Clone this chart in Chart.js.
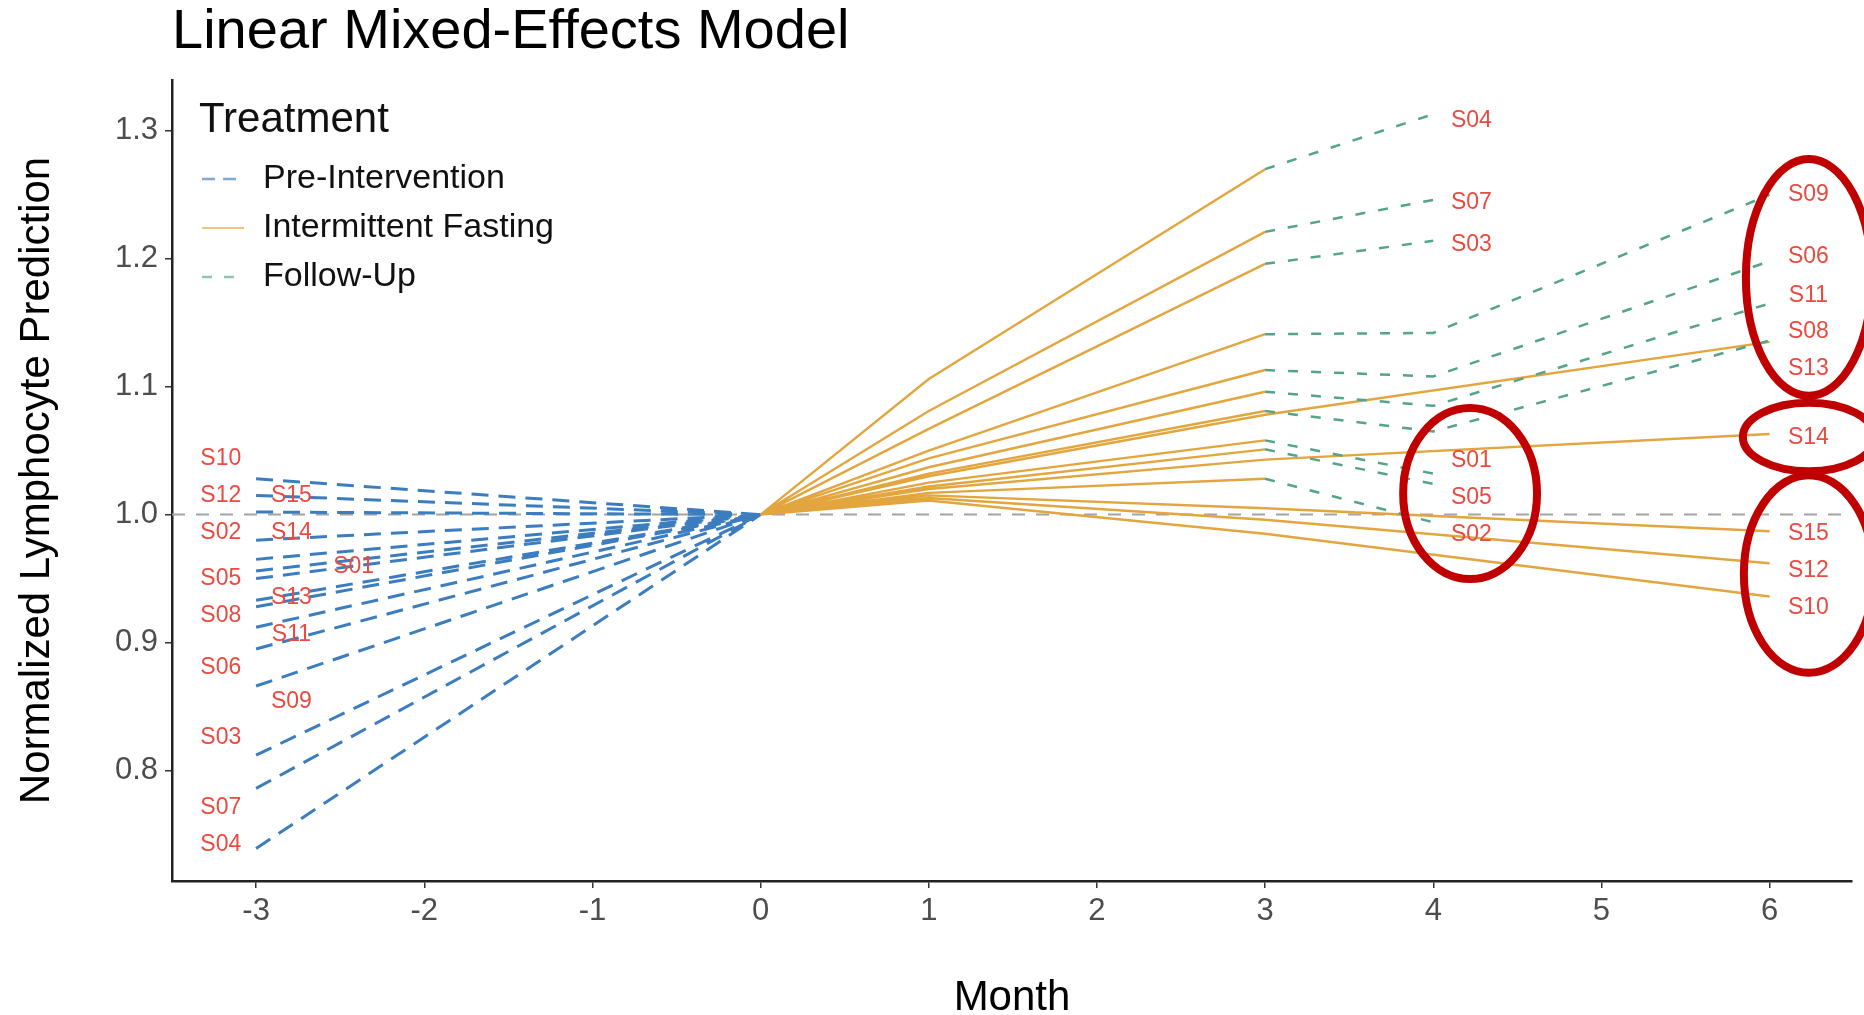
<!DOCTYPE html>
<html>
<head>
<meta charset="utf-8">
<title>Linear Mixed-Effects Model</title>
<script src="https://cdn.jsdelivr.net/npm/chart.js@4.4.1/dist/chart.umd.min.js"></script>
<style>
  html, body { margin: 0; padding: 0; background: #fff; }
</style>
</head>
<body>
<canvas id="myChart" width="1864" height="1015"></canvas>
<script>
// subjects, in index order
const subjects = ['S01', 'S02', 'S03', 'S04', 'S05', 'S06', 'S07', 'S08', 'S09', 'S10', 'S11', 'S12', 'S13', 'S14', 'S15'];

// predicted value at each month (normalized to 1.0 at month 0)
const month0Value = 1.0;
const preM3 = [0.956, 0.980, 0.812, 0.739, 0.950, 0.895, 0.786, 0.928, 0.866, 1.028, 0.912, 1.015, 0.933, 0.965, 1.002];
const fastM1 = [1.025, 1.017, 1.067, 1.106, 1.022, 1.044, 1.081, 1.032, 1.050, 1.011, 1.037, 1.013, 1.030, 1.020, 1.015];
const fastM3 = [1.058, 1.028, 1.196, 1.270, 1.051, 1.113, 1.221, 1.081, 1.141, 0.985, 1.096, 0.996, 1.078, 1.043, 1.005];
const fastM6 = [null, null, null, null, null, null, null, null, null, 0.936, null, 0.962, 1.135, 1.063, 0.987];
const followM4 = [1.032, 0.994, 1.214, 1.313, 1.024, 1.108, 1.246, 1.065, 1.142, null, 1.085, null, null, null, null];
const followM6 = [null, null, null, null, null, 1.198, null, 1.136, 1.250, null, 1.165, null, null, null, null];

const monthTicks = [-3, -2, -1, 0, 1, 2, 3, 4, 5, 6];
const valueTicks = [0.8, 0.9, 1.0, 1.1, 1.2, 1.3];
const xRange = [-3.5, 6.49];
const yRange = [0.7136, 1.3397];

// where the subject labels sit (month, value), as placed by the repel step
const labelSpots = [
  ['S10', -3.21, 1.044], ['S12', -3.21, 1.015], ['S02', -3.21, 0.986], ['S05', -3.21, 0.950],
  ['S08', -3.21, 0.921], ['S06', -3.21, 0.880], ['S03', -3.21, 0.826], ['S07', -3.21, 0.771],
  ['S04', -3.21, 0.742], ['S15', -2.79, 1.015], ['S14', -2.79, 0.986], ['S01', -2.42, 0.959],
  ['S13', -2.79, 0.935], ['S11', -2.79, 0.906], ['S09', -2.79, 0.854],
  ['S04', 4.227, 1.308], ['S07', 4.227, 1.244], ['S03', 4.227, 1.211],
  ['S01', 4.227, 1.042], ['S05', 4.227, 1.013], ['S02', 4.227, 0.984],
  ['S09', 6.231, 1.250], ['S06', 6.231, 1.202], ['S11', 6.231, 1.171], ['S08', 6.231, 1.143],
  ['S13', 6.231, 1.114], ['S14', 6.231, 1.060], ['S15', 6.231, 0.985], ['S12', 6.231, 0.956],
  ['S10', 6.231, 0.927]
];

// red circles added on top of the figure (centre month, centre value, radius in months, radius in value)
const highlights = [
  [6.233, 1.1854, 0.374, 0.0925],
  [6.233, 1.0606, 0.392, 0.0268],
  [6.233, 0.9535, 0.386, 0.0772],
  [4.219, 1.0165, 0.398, 0.0669]
];

const colPre = '#3B7DBF';
const colFast = '#E3A53E';
const colFollow = '#55A38B';
const fontFamily = '"Liberation Sans", Arial, Helvetica, sans-serif';

// join per-subject pieces into one dataset, broken by null points
function joinPieces(pieces) {
  let pts = [];
  pieces.forEach((p, i) => {
    if (i > 0) pts.push({ x: p[0].x, y: null });
    pts = pts.concat(p);
  });
  return pts;
}

const prePieces = subjects.map((s, i) => [{ x: -3, y: preM3[i] }, { x: 0, y: month0Value }]);
const fastPieces = subjects.map((s, i) => {
  const p = [{ x: 0, y: month0Value }, { x: 1, y: fastM1[i] }, { x: 3, y: fastM3[i] }];
  if (fastM6[i] !== null) p.push({ x: 6, y: fastM6[i] });
  return p;
});
const followPieces = [];
subjects.forEach((s, i) => {
  if (followM4[i] === null) return;
  const p = [{ x: 3, y: fastM3[i] }, { x: 4, y: followM4[i] }];
  if (followM6[i] !== null) p.push({ x: 6, y: followM6[i] });
  followPieces.push(p);
});

const data = {
  datasets: [
    {
      label: 'Follow-Up',
      data: joinPieces(followPieces),
      borderColor: colFollow,
      borderWidth: 2.5,
      borderDash: [10, 13],
      order: 1
    },
    {
      label: 'Intermittent Fasting',
      data: joinPieces(fastPieces),
      borderColor: colFast,
      borderWidth: 2.4,
      order: 2
    },
    {
      label: 'Pre-Intervention',
      data: joinPieces(prePieces),
      borderColor: colPre,
      borderWidth: 3,
      borderDash: [17, 10],
      order: 3
    },
    {
      label: 'reference',
      data: [{ x: xRange[0], y: month0Value }, { x: xRange[1], y: month0Value }],
      borderColor: '#A3A3A3',
      borderWidth: 2,
      borderDash: [13, 11],
      order: 4
    }
  ]
};

const subjectLabels = {
  id: 'subjectLabels',
  afterDatasetsDraw(chart) {
    const ctx = chart.ctx;
    const xs = chart.scales.x, ys = chart.scales.y;
    ctx.save();
    ctx.font = '23px ' + fontFamily;
    ctx.fillStyle = '#EA4A3F';
    ctx.textAlign = 'center';
    ctx.textBaseline = 'middle';
    labelSpots.forEach(([name, m, v]) => {
      ctx.fillText(name, xs.getPixelForValue(m), ys.getPixelForValue(v));
    });
    ctx.restore();
  }
};

const treatmentLegend = {
  id: 'treatmentLegend',
  afterDraw(chart) {
    const ctx = chart.ctx;
    const a = chart.chartArea;
    const left = a.left + 27;
    ctx.save();
    ctx.textBaseline = 'middle';
    ctx.fillStyle = '#111';
    ctx.font = '42px ' + fontFamily;
    ctx.fillText('Treatment', left, a.top + 40);
    const items = [
      ['Pre-Intervention', colPre, [13, 8], 2.5],
      ['Intermittent Fasting', colFast, [], 2.2],
      ['Follow-Up', colFollow, [10, 12], 2.5]
    ];
    ctx.font = '34px ' + fontFamily;
    items.forEach(([txt, col, dash, w], i) => {
      const y = a.top + 99 + i * 49;
      ctx.save();
      ctx.globalAlpha = 0.65;
      ctx.strokeStyle = col;
      ctx.lineWidth = w;
      ctx.setLineDash(dash);
      ctx.beginPath();
      ctx.moveTo(left + 3, y);
      ctx.lineTo(left + 45, y);
      ctx.stroke();
      ctx.restore();
      ctx.fillStyle = '#111';
      ctx.fillText(txt, left + 64, y);
    });
    ctx.restore();
  }
};

const highlightRings = {
  id: 'highlightRings',
  afterDraw(chart) {
    const ctx = chart.ctx;
    const xs = chart.scales.x, ys = chart.scales.y;
    ctx.save();
    ctx.strokeStyle = '#C00000';
    ctx.lineWidth = 8;
    highlights.forEach(([m, v, rm, rv]) => {
      const cx = xs.getPixelForValue(m);
      const cy = ys.getPixelForValue(v);
      const rx = Math.abs(xs.getPixelForValue(m + rm) - cx);
      const ry = Math.abs(ys.getPixelForValue(v + rv) - cy);
      ctx.beginPath();
      ctx.ellipse(cx, cy, rx, ry, 0, 0, Math.PI * 2);
      ctx.stroke();
    });
    ctx.restore();
  }
};

Chart.defaults.font.family = fontFamily;

const config = {
  type: 'line',
  data: data,
  options: {
    responsive: false,
    animation: false,
    spanGaps: false,
    elements: { point: { radius: 0 }, line: { tension: 0 } },
    layout: { padding: { top: 0, right: 12, left: 0, bottom: 0 } },
    plugins: {
      legend: { display: false },
      tooltip: { enabled: false },
      title: {
        display: true,
        text: 'Linear Mixed-Effects Model',
        align: 'start',
        fullSize: false,
        color: '#000',
        font: { size: 56, weight: 'normal', lineHeight: 1 },
        padding: { top: 5, bottom: 19 }
      }
    },
    scales: {
      x: {
        type: 'linear',
        min: xRange[0],
        max: xRange[1],
        afterFit: (s) => { s.height = 134; },
        afterBuildTicks: (s) => { s.ticks = monthTicks.map((v) => ({ value: v })); },
        grid: { display: true, drawOnChartArea: false, drawTicks: true, tickLength: 7, color: '#333', lineWidth: 1.5 },
        border: { display: true, color: '#222', width: 2.5 },
        ticks: {
          color: '#4D4D4D',
          font: { size: 31 },
          padding: 5,
          maxRotation: 0,
          autoSkip: false,
          callback: (v) => String(v)
        },
        title: {
          display: true,
          text: 'Month',
          color: '#000',
          font: { size: 42, lineHeight: 1 },
          padding: { top: 0, bottom: -4 }
        }
      },
      y: {
        type: 'linear',
        min: yRange[0],
        max: yRange[1],
        afterFit: (s) => { s.width = 172; },
        afterBuildTicks: (s) => { s.ticks = valueTicks.map((v) => ({ value: v })); },
        grid: { display: true, drawOnChartArea: false, drawTicks: true, tickLength: 7, color: '#333', lineWidth: 1.5 },
        border: { display: true, color: '#222', width: 2.5 },
        ticks: {
          color: '#4D4D4D',
          font: { size: 31 },
          padding: 7,
          autoSkip: false,
          callback: (v) => v.toFixed(1)
        },
        title: {
          display: true,
          text: 'Normalized Lymphocyte Prediction',
          color: '#000',
          font: { size: 42, lineHeight: 1 },
          padding: { top: 16, bottom: 0 }
        }
      }
    }
  },
  plugins: [subjectLabels, treatmentLegend, highlightRings]
};

const myChart = new Chart(document.getElementById('myChart'), config);
</script>
</body>
</html>
